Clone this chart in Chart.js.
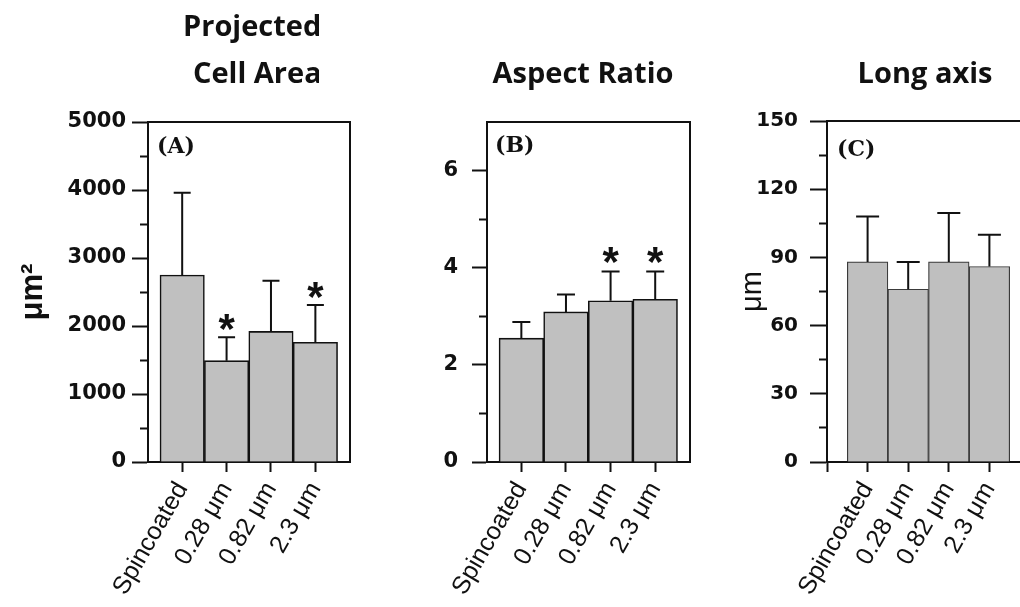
<!DOCTYPE html>
<html>
<head>
<meta charset="utf-8">
<script src="https://cdn.jsdelivr.net/npm/chart.js@4.4.1/dist/chart.umd.min.js"></script>
<style>
  html, body { margin: 0; padding: 0; background: #fff; overflow: hidden; width: 1020px; height: 607px; }
  canvas { position: absolute; top: 0; }
  #ca { left: 0; }
  #cb { left: 360px; }
  #cc { left: 700px; }
</style>
</head>
<body>
<canvas id="ca" width="360" height="607"></canvas>
<canvas id="cb" width="340" height="607"></canvas>
<canvas id="cc" width="340" height="607"></canvas>
<script>
// Substrate groups shared by all three panels
const categories = ['Spincoated', '0.28 μm', '0.82 μm', '2.3 μm'];

// (A) projected cell area, μm²
const areaMean = [2750, 1490, 1920, 1760];
const areaSD = [1210, 345, 745, 550];
const areaSig = [false, true, false, true];
const areaTicks = [0, 1000, 2000, 3000, 4000, 5000];
const areaMinorTicks = [500, 1500, 2500, 3500, 4500];

// (B) aspect ratio
const ratioMean = [2.55, 3.09, 3.32, 3.35];
const ratioSD = [0.33, 0.36, 0.60, 0.57];
const ratioSig = [false, false, true, true];
const ratioTicks = [0, 2, 4, 6];
const ratioMinorTicks = [1, 3, 5];

// (C) long axis, μm
const lengthMean = [88, 76, 88, 86];
const lengthSD = [20, 12, 21.5, 14];
const lengthSig = [false, false, false, false];
const lengthTicks = [0, 30, 60, 90, 120, 150];
const lengthMinorTicks = [15, 45, 75, 105, 135];

const INK = '#111';
const SANS = '"Liberation Sans", Arial, sans-serif';
const WIDE_SANS = '"DejaVu Sans", sans-serif';
const TITLE_SANS = '"Open Sans", "Noto Sans", sans-serif';
const SERIF = '"DejaVu Serif", "Liberation Serif", serif';

// Frame, error bars, significance stars, panel letter and heading
const decoPlugin = {
  id: 'deco',
  afterDatasetsDraw(chart) {
    const cfg = chart.options.plugins.deco;
    const {ctx, chartArea: ca} = chart;
    const x = chart.scales.x, y = chart.scales.y;
    ctx.save();

    // top and right edges of the plot box
    ctx.strokeStyle = INK;
    ctx.lineWidth = 2;
    ctx.beginPath();
    ctx.moveTo(ca.left, ca.top);
    ctx.lineTo(ca.right, ca.top);
    ctx.lineTo(ca.right, ca.bottom);
    ctx.stroke();

    // upper error whiskers
    ctx.lineWidth = cfg.whiskerWidth;
    cfg.mean.forEach((m, i) => {
      const px = x.getPixelForValue(i);
      const y0 = y.getPixelForValue(m);
      const y1 = y.getPixelForValue(m + cfg.sd[i]);
      ctx.beginPath();
      ctx.moveTo(px, y0);
      ctx.lineTo(px, y1);
      ctx.moveTo(px - cfg.cap / 2, y1);
      ctx.lineTo(px + cfg.cap / 2, y1);
      ctx.stroke();

      if (cfg.sig[i]) {
        ctx.font = 'bold 42px ' + SANS;
        ctx.fillStyle = INK;
        ctx.textAlign = 'center';
        ctx.textBaseline = 'alphabetic';
        const mt = ctx.measureText('*');
        const cy = y1 - cfg.starGap;
        const base = cy + (mt.actualBoundingBoxAscent - mt.actualBoundingBoxDescent) / 2;
        ctx.fillText('*', px, base);
      }
    });

    // panel letter
    ctx.font = 'bold 22px ' + SERIF;
    ctx.fillStyle = INK;
    ctx.textAlign = 'left';
    ctx.textBaseline = 'alphabetic';
    ctx.fillText(cfg.letter, ca.left + cfg.letterDx, cfg.letterY);

    // heading
    ctx.beginPath();
    ctx.rect(0, 0, cfg.headClip, chart.height);
    ctx.clip();
    ctx.font = '700 29px ' + TITLE_SANS;
    cfg.heading.forEach(h => {
      ctx.textAlign = h.align;
      ctx.fillText(h.text, h.x, h.y);
    });
    ctx.restore();
  }
};

function makePanel(p) {
  const tickFont = {family: WIDE_SANS, size: p.tickSize, weight: 'bold'};
  return new Chart(document.getElementById(p.id), {
    type: 'bar',
    data: {
      datasets: [{
        data: p.mean.map((v, i) => ({x: i, y: v})),
        backgroundColor: p.fill,
        borderColor: p.edge,
        borderWidth: p.edgeWidth,
        barPercentage: 1,
        categoryPercentage: 1
      }]
    },
    options: {
      responsive: false,
      animation: false,
      events: [],
      layout: {padding: {left: 0, top: p.top, right: 10, bottom: 0}},
      plugins: {
        legend: {display: false},
        tooltip: {enabled: false},
        title: {display: false},
        deco: {
          mean: p.mean, sd: p.sd, sig: p.sig, cap: p.cap, whiskerWidth: 2,
          starGap: p.starGap, letter: p.letter, letterDx: p.letterDx, letterY: p.letterY,
          heading: p.heading, headClip: p.headClip
        }
      },
      scales: {
        x: {
          type: 'linear',
          position: 'bottom',
          offset: false,
          min: p.xMin,
          max: p.xMax,
          afterBuildTicks: s => { s.ticks = p.xTicks.map(v => ({value: v})); },
          afterFit: s => { s.height = 145; },
          grid: {offset: false, drawOnChartArea: false, drawTicks: true, tickLength: 10, tickWidth: 2, tickColor: INK},
          border: {display: true, color: INK, width: 2},
          ticks: {
            autoSkip: false, minRotation: 60, maxRotation: 60, padding: 5, color: INK,
            font: {family: SANS, size: 25},
            callback: v => (categories[v] !== undefined ? categories[v] : '')
          }
        },
        y: {
          type: 'linear',
          position: 'left',
          weight: 1,
          min: p.yMin,
          max: p.yMax,
          afterBuildTicks: s => { s.ticks = p.yTicks.map(v => ({value: v})); },
          afterFit: s => { s.width = p.yAxisWidth; },
          grid: {drawOnChartArea: false, drawTicks: true, tickLength: p.majorLen, tickWidth: 2, tickColor: INK},
          border: {display: true, color: INK, width: 2},
          ticks: {padding: p.tickPad, color: INK, font: tickFont, callback: v => String(v)},
          title: {
            display: !!p.yTitle,
            text: p.yTitle || '',
            color: INK,
            font: p.yTitleFont,
            padding: {top: p.yTitlePad, bottom: 0}
          }
        },
        yMinor: {
          type: 'linear',
          position: 'left',
          weight: 0,
          min: p.yMin,
          max: p.yMax,
          afterBuildTicks: s => { s.ticks = p.yMinorTicks.map(v => ({value: v})); },
          afterFit: s => { s.width = 0; },
          grid: {drawOnChartArea: false, drawTicks: true, tickLength: 8, tickWidth: 2, tickColor: INK},
          border: {display: false},
          ticks: {display: false}
        }
      }
    },
    plugins: [decoPlugin]
  });
}

makePanel({
  id: 'ca', mean: areaMean, sd: areaSD, sig: areaSig,
  yMin: 0, yMax: 5000, yTicks: areaTicks, yMinorTicks: areaMinorTicks,
  xMin: -0.77, xMax: 3.78, xTicks: [0, 1, 2, 3],
  top: 122, yAxisWidth: 148, majorLen: 16, tickPad: 6, tickSize: 21,
  yTitle: 'μm²', yTitleFont: {family: SANS, size: 31, weight: 'bold'}, yTitlePad: 15,
  fill: '#c0c0c0', edge: INK, edgeWidth: 1.6, cap: 17, starGap: 15,
  letter: '(A)', letterDx: 9, letterY: 153,
  heading: [{text: 'Projected', x: 183, y: 36, align: 'left'}, {text: 'Cell Area', x: 193, y: 83, align: 'left'}],
  headClip: 319
});

makePanel({
  id: 'cb', mean: ratioMean, sd: ratioSD, sig: ratioSig,
  yMin: 0, yMax: 7, yTicks: ratioTicks, yMinorTicks: ratioMinorTicks,
  xMin: -0.77, xMax: 3.78, xTicks: [0, 1, 2, 3],
  top: 122, yAxisWidth: 127, majorLen: 15, tickPad: 14, tickSize: 21,
  yTitle: null, yTitleFont: {family: SANS, size: 12}, yTitlePad: 0,
  fill: '#c0c0c0', edge: INK, edgeWidth: 1.6, cap: 18, starGap: 17,
  letter: '(B)', letterDx: 8, letterY: 152,
  heading: [{text: 'Aspect Ratio', x: 223, y: 83, align: 'center'}],
  headClip: 340
});

makePanel({
  id: 'cc', mean: lengthMean, sd: lengthSD, sig: lengthSig,
  yMin: 0, yMax: 150, yTicks: lengthTicks, yMinorTicks: lengthMinorTicks,
  xMin: -1, xMax: 4, xTicks: [-1, 0, 1, 2, 3],
  top: 121, yAxisWidth: 127, majorLen: 17, tickPad: 12, tickSize: 20,
  yTitle: 'μm', yTitleFont: {family: SANS, size: 29, weight: 'normal'}, yTitlePad: 36,
  fill: '#bfbfbf', edge: '#3a3a3a', edgeWidth: 1.2, cap: 23, starGap: 16,
  letter: '(C)', letterDx: 10, letterY: 156,
  heading: [{text: 'Long axis', x: 225, y: 83, align: 'center'}],
  headClip: 340
});
</script>
</body>
</html>
